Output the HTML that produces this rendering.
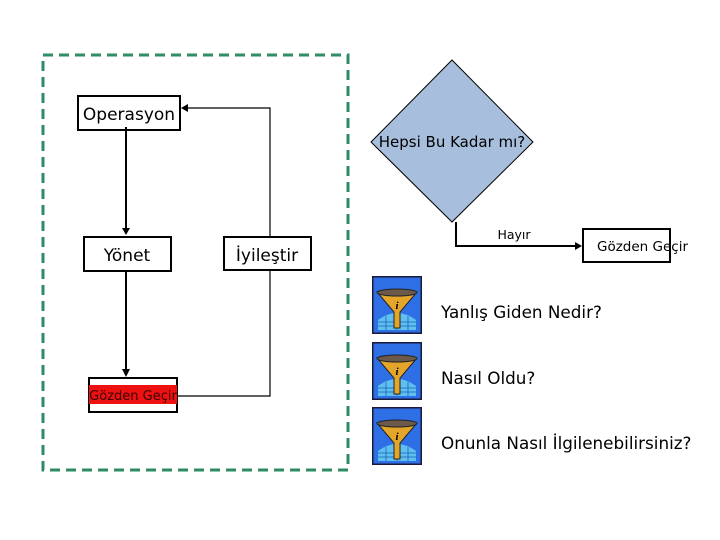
<!DOCTYPE html>
<html><head><meta charset="utf-8"><style>
html,body{margin:0;padding:0;background:#fff}
svg{display:block}
text{font-family:"DejaVu Sans","Liberation Sans",sans-serif;fill:#000}
</style></head><body>
<svg width="720" height="540" viewBox="0 0 720 540" xmlns="http://www.w3.org/2000/svg">
<defs>
<g id="ic">
<rect x="0" y="0" width="50" height="58" fill="#1a1a3a"/>
<rect x="1.5" y="1.5" width="47" height="55" fill="#2f6fe6"/>
<path d="M6 44 Q25 30 44 44 L44 54 L6 54Z" fill="#5fc0f0"/>
<path d="M6 46 H44 M6 50 H44 M14 40 V54 M25 38 V54 M36 40 V54" stroke="#1b5fb8" stroke-width="0.8"/>
<path d="M5 16 L45 16 L28 36 L28 52 L22 52 L22 36 Z" fill="#e3a52a" stroke="#222" stroke-width="1"/>
<ellipse cx="25" cy="16.5" rx="20" ry="3.5" fill="#6b5a4a" stroke="#222" stroke-width="1"/>
<text x="25" y="33" font-size="11" font-style="italic" font-weight="bold" text-anchor="middle" style="font-family:'Liberation Serif',serif">i</text>
</g>
</defs>
<rect x="43" y="55" width="305" height="415" fill="none" stroke="#2e8b66" stroke-width="3" stroke-dasharray="10,6"/>
<rect x="78" y="96" width="102" height="34" fill="#fff" stroke="#000" stroke-width="2"/>
<text x="129" y="120" font-size="17" text-anchor="middle">Operasyon</text>
<rect x="84" y="237" width="87" height="34" fill="#fff" stroke="#000" stroke-width="2"/>
<text x="127" y="261" font-size="17" text-anchor="middle">Yönet</text>
<rect x="224" y="237" width="87" height="33" fill="#fff" stroke="#000" stroke-width="2"/>
<text x="267" y="261" font-size="17" text-anchor="middle">İyileştir</text>
<rect x="89" y="378" width="88" height="34" fill="#fff" stroke="#000" stroke-width="2"/>
<rect x="89" y="385" width="88" height="19" fill="#ee1111"/>
<text x="133" y="400" font-size="13" text-anchor="middle" style="fill:#3a0000">Gözden Geçir</text>
<line x1="126" y1="127" x2="126" y2="228" stroke="#000" stroke-width="2"/>
<path d="M122 228 L130 228 L126 235Z"/>
<line x1="126" y1="271" x2="126" y2="369" stroke="#000" stroke-width="2"/>
<path d="M122 369 L130 369 L126 377Z"/>
<polyline points="270,237 270,108 188,108" fill="none" stroke="#000" stroke-width="1.2"/>
<path d="M188 104 L188 112 L181 108Z"/>
<polyline points="270,270 270,396 177,396" fill="none" stroke="#000" stroke-width="1.2"/>
<polygon points="452,60 533,142 452,222 371,142" fill="#a7bfdc" stroke="#000" stroke-width="1"/>
<text x="452" y="147" font-size="15" text-anchor="middle">Hepsi Bu Kadar mı?</text>
<polyline points="456,222 456,246 575,246" fill="none" stroke="#000" stroke-width="2"/>
<path d="M575 242 L575 250 L582 246Z"/>
<text x="514" y="239" font-size="12.5" text-anchor="middle">Hayır</text>
<rect x="583" y="229" width="87" height="33" fill="#fff" stroke="#000" stroke-width="2"/>
<text x="597" y="251" font-size="13.5">Gözden Geçir</text>
<use href="#ic" x="372" y="276"/>
<use href="#ic" x="372" y="342"/>
<use href="#ic" x="372" y="407"/>
<text x="441" y="318" font-size="16.8">Yanlış Giden Nedir?</text>
<text x="441" y="384" font-size="16.8">Nasıl Oldu?</text>
<text x="441" y="449" font-size="16.8">Onunla Nasıl İlgilenebilirsiniz?</text>
</svg>
</body></html>
